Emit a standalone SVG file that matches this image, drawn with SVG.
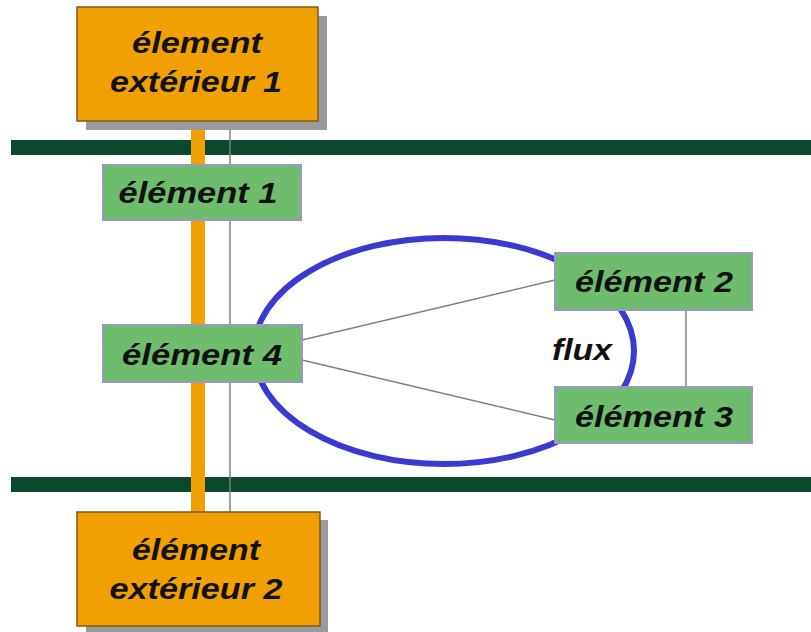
<svg xmlns="http://www.w3.org/2000/svg" width="811" height="632" viewBox="0 0 811 632">
  <defs>
    <style>
      .lbl { font-family: "Liberation Sans", Arial, sans-serif; font-weight: bold; font-style: italic; font-size: 30px; fill: #111; text-anchor: middle; }
      .ext { fill: #f0a000; stroke: #7a5a20; stroke-width: 1.5; }
      .shadow { fill: #9a9a9a; }
      .inner { fill: #6dbd6d; stroke: #9a98c8; stroke-width: 2; }
      .rail { fill: #0b4a2c; }
      .thin { stroke: #808080; stroke-width: 1.5; fill: none; }
    </style>
  </defs>
  <rect width="811" height="632" fill="#ffffff"/>

  <!-- boundary rails -->
  <rect class="rail" x="11" y="140" width="800" height="15"/>
  <rect class="rail" x="11" y="477" width="800" height="15"/>

  <g id="connectors">
    <!-- orange link between the outer elements -->
    <rect x="191" y="120" width="14" height="392" fill="#f0a000"/>
    <line class="thin" x1="230" y1="120" x2="230" y2="512"/>
    <!-- flow loop -->
    <ellipse cx="444" cy="351" rx="190" ry="113" fill="none" stroke="#3a3ad0" stroke-width="6"/>
    <line class="thin" x1="302" y1="340" x2="555" y2="280"/>
    <line class="thin" x1="302" y1="360" x2="555" y2="420"/>
    <line class="thin" x1="686" y1="310" x2="686" y2="387"/>
    <text class="lbl" x="582" y="360" font-size="28" textLength="60" lengthAdjust="spacingAndGlyphs">flux</text>
  </g>

  <g id="ext1">
    <rect class="shadow" x="86" y="16" width="241" height="114"/>
    <rect class="ext" x="77" y="7" width="241" height="114"/>
    <text class="lbl" x="197" y="53" textLength="130" lengthAdjust="spacingAndGlyphs">élement</text>
    <text class="lbl" x="196" y="92" textLength="172" lengthAdjust="spacingAndGlyphs">extérieur 1</text>
  </g>

  <g id="el1">
    <rect class="inner" x="103" y="165" width="198" height="55"/>
    <text class="lbl" x="198" y="203" textLength="159" lengthAdjust="spacingAndGlyphs">élément 1</text>
  </g>

  <g id="el4">
    <rect class="inner" x="103" y="325" width="199" height="57"/>
    <text class="lbl" x="202" y="365" textLength="160" lengthAdjust="spacingAndGlyphs">élément 4</text>
  </g>

  <g id="el2">
    <rect class="inner" x="555" y="253" width="197" height="57"/>
    <text class="lbl" x="654" y="292" textLength="158" lengthAdjust="spacingAndGlyphs">élément 2</text>
  </g>

  <g id="el3">
    <rect class="inner" x="555" y="387" width="197" height="56"/>
    <text class="lbl" x="654" y="427" textLength="158" lengthAdjust="spacingAndGlyphs">élément 3</text>
  </g>

  <g id="ext2">
    <rect class="shadow" x="86" y="520" width="242" height="112" fill="#8a7a9a"/>
    <rect class="ext" x="77" y="512" width="243" height="114"/>
    <text class="lbl" x="196" y="560" textLength="128" lengthAdjust="spacingAndGlyphs">élément</text>
    <text class="lbl" x="196" y="599" textLength="173" lengthAdjust="spacingAndGlyphs">extérieur 2</text>
  </g>
</svg>
